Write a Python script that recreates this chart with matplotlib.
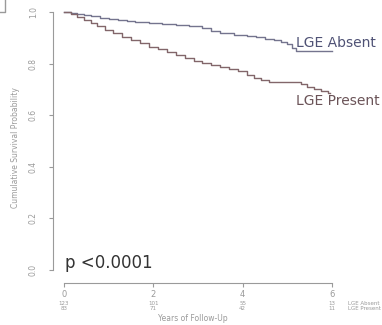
import matplotlib.pyplot as plt

# Kaplan-Meier curves (years, survival)
absent_t = [0, 0.15, 0.3, 0.45, 0.6, 0.8, 1.0, 1.2, 1.4, 1.6, 1.9, 2.2, 2.5, 2.8, 3.1, 3.3,
            3.5, 3.8, 4.1, 4.3, 4.5, 4.7, 4.85, 5.0, 5.1, 5.2, 6.0]
absent_s = [1.0, 0.997, 0.993, 0.989, 0.984, 0.978, 0.973, 0.968, 0.964, 0.961, 0.957, 0.953,
            0.948, 0.944, 0.938, 0.925, 0.918, 0.912, 0.907, 0.902, 0.897, 0.891, 0.884, 0.875,
            0.862, 0.847, 0.847]

present_t = [0, 0.15, 0.3, 0.45, 0.6, 0.75, 0.92, 1.1, 1.3, 1.5, 1.7, 1.9, 2.1, 2.3, 2.5, 2.7,
             2.9, 3.1, 3.3, 3.5, 3.7, 3.9, 4.1, 4.25, 4.4, 4.6, 5.0, 5.3, 5.45, 5.6, 5.75, 5.9, 5.96]
present_s = [1.0, 0.993, 0.982, 0.97, 0.958, 0.945, 0.932, 0.92, 0.905, 0.892, 0.878, 0.865,
             0.855, 0.845, 0.835, 0.822, 0.812, 0.803, 0.795, 0.788, 0.78, 0.77, 0.757, 0.745,
             0.735, 0.727, 0.727, 0.722, 0.71, 0.703, 0.695, 0.686, 0.686]

years = [0, 2, 4, 6]
at_risk_absent = ["123", "101", "55", "13"]
at_risk_present = ["83", "71", "42", "11"]

col_absent = "#74748e"
col_present = "#82666a"
grey = "#9a9a9a"

fig = plt.figure(figsize=(3.82, 3.25), dpi=100)
ax = fig.add_axes([53 / 382, 42 / 325, 279 / 382, 271 / 325])

ax.step(absent_t, absent_s, where="post", color=col_absent, lw=1.0, clip_on=False)
ax.step(present_t, present_s, where="post", color=col_present, lw=1.0, clip_on=False)

ax.set_xlim(-0.246, 6.0)
ax.set_ylim(-0.05, 1.0)

for s in ["top", "right"]:
    ax.spines[s].set_visible(False)
ax.spines["left"].set_bounds(0, 1)
ax.spines["bottom"].set_bounds(0, 6)
ax.spines["left"].set_color(grey)
ax.spines["bottom"].set_color(grey)

ax.set_yticks([0, 0.2, 0.4, 0.6, 0.8, 1.0])
ax.set_yticklabels(["0.0", "0.2", "0.4", "0.6", "0.8", "1.0"], rotation=90, va="center")
ax.set_xticks(years)
ax.set_xticklabels([str(y) for y in years])
ax.tick_params(axis="y", colors=grey, labelsize=5.5, length=3, pad=8)
ax.tick_params(axis="x", colors=grey, labelsize=6, length=3, pad=2)

ax.set_ylabel("Cumulative Survival Probability", fontsize=5.5, color=grey, labelpad=6)
ax.set_xlabel("Years of Follow-Up", fontsize=5.5, color=grey, labelpad=11)

ax.text(5.2, 0.865, "LGE Absent", fontsize=10, color="#4f5275", clip_on=False)
ax.text(5.2, 0.640, "LGE Present", fontsize=10, color="#6b5458", clip_on=False)
ax.text(0.03, 0.01, "p <0.0001", fontsize=12, color="#333333")

# numbers at risk below the axis
for x, a, p in zip(years, at_risk_absent, at_risk_present):
    ax.annotate(a, (x, 0), xytext=(0, -14.5), textcoords="offset points", va="center",
                xycoords=("data", "axes fraction"), ha="center", fontsize=4, color=grey)
    ax.annotate(p, (x, 0), xytext=(0, -18.5), textcoords="offset points", va="center",
                xycoords=("data", "axes fraction"), ha="center", fontsize=4, color=grey)
ax.annotate("LGE Absent", (6.35, 0), xytext=(0, -14.5), textcoords="offset points", va="center",
            xycoords=("data", "axes fraction"), ha="left", fontsize=4, color=grey, annotation_clip=False)
ax.annotate("LGE Present", (6.35, 0), xytext=(0, -18.5), textcoords="offset points", va="center",
            xycoords=("data", "axes fraction"), ha="left", fontsize=4, color=grey, annotation_clip=False)

# fragment of a frame at the top-left corner
fig.add_artist(plt.Line2D([0, 5 / 382, 5 / 382], [313 / 325, 313 / 325, 1], color=grey, lw=1))

fig.savefig("out.png", dpi=100)
